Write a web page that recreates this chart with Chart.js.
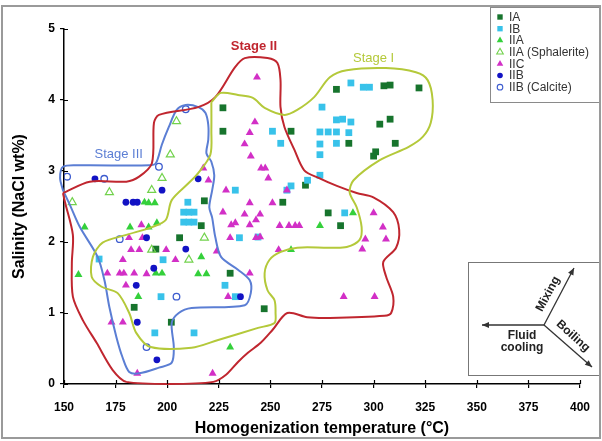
<!DOCTYPE html>
<html>
<head>
<meta charset="utf-8">
<script src="https://cdn.jsdelivr.net/npm/chart.js@4.4.1/dist/chart.umd.min.js"></script>
<style>
  html, body { margin: 0; padding: 0; background: #fff; }
  canvas { display: block; }
</style>
</head>
<body>
<canvas id="chart" width="602" height="441"></canvas>
<script>
// Axis ticks
const xTicks = [150, 175, 200, 225, 250, 275, 300, 325, 350, 375, 400];
const yTicks = [0, 1, 2, 3, 4, 5];

// Fluid inclusion groups: homogenization temperature (°C) and salinity (NaCl wt%)
const iaTemp = [227, 227, 282, 305, 308, 322, 303, 308, 260, 288, 310.5, 301, 300, 267, 256, 278, 284, 247, 218, 216.5, 206, 194.5, 230.5, 184, 202];
const iaSal  = [3.89, 3.56, 4.15, 4.20, 4.21, 4.17, 3.66, 3.73, 3.56, 3.39, 3.39, 3.27, 3.21, 2.80, 2.56, 2.41, 2.23, 1.06, 2.58, 2.23, 2.06, 1.90, 1.56, 1.08, 0.87];

const ibTemp = [289, 295, 298, 275, 282, 285, 289, 274, 278, 282, 288, 274, 282, 274, 251, 255, 274, 268, 260, 258, 286, 244, 210, 208, 210.5, 213, 208, 210.5, 213, 233, 235, 198, 167, 228, 233, 197, 194, 213];
const ibSal  = [4.24, 4.18, 4.18, 3.90, 3.72, 3.73, 3.69, 3.55, 3.55, 3.55, 3.54, 3.38, 3.39, 3.23, 3.56, 3.39, 2.94, 2.87, 2.79, 2.73, 2.41, 2.07, 2.56, 2.42, 2.42, 2.42, 2.28, 2.28, 2.28, 2.73, 2.06, 1.75, 1.76, 1.39, 1.23, 1.23, 0.72, 0.72];

const iiaTemp = [157, 160, 182, 191, 195, 189, 191, 194, 194.5, 197.5, 215, 219, 216.5, 186, 230.5, 274, 260, 290];
const iiaSal  = [1.54, 2.21, 2.21, 2.21, 2.27, 2.56, 2.55, 2.55, 1.56, 1.56, 1.55, 1.55, 1.79, 1.23, 0.52, 2.23, 1.89, 2.41];

const sphTemp = [154, 172, 192.5, 197.5, 201.5, 204.5, 192.5, 210.5, 218];
const sphSal  = [2.56, 2.70, 2.73, 2.90, 3.23, 3.70, 1.89, 1.75, 2.06];

const iicTemp = [243.5, 242.5, 240, 237.5, 240.5, 245.5, 247.5, 249, 258, 251, 240, 237.5, 245, 243, 254.5, 259, 262, 264, 245, 254,
                 300, 304.5, 296, 306, 294.5, 285.5, 300.5, 240, 217.5, 220, 228.5, 227, 233, 231, 240, 181.5, 188, 230.5, 243, 182.5,
                 186.5, 199.5, 178.5, 204, 171, 177, 179, 184, 190, 224, 229.5, 173, 178.5, 185.5, 222, 180, 187.5];
const iicSal  = [4.32, 3.69, 3.54, 3.38, 3.21, 3.04, 3.04, 2.90, 2.73, 2.55, 2.55, 2.39, 2.39, 2.31, 2.23, 2.23, 2.23, 2.23, 2.07, 1.89,
                 2.41, 2.21, 2.04, 2.04, 1.90, 1.23, 1.23, 1.56, 3.04, 2.87, 2.73, 2.42, 2.27, 2.24, 2.24, 2.06, 2.06, 2.06, 2.06, 1.89,
                 1.89, 1.89, 1.75, 1.75, 1.56, 1.56, 1.56, 1.56, 1.55, 1.87, 1.23, 0.87, 0.87, 0.15, 0.15, 1.39, 2.24];

const iibTemp = [165, 197.5, 180, 183.5, 185.5, 215, 209, 193.5, 185, 185.5, 195, 235.5, 190];
const iibSal  = [2.89, 2.73, 2.56, 2.56, 2.56, 2.89, 1.90, 1.63, 1.39, 0.87, 0.34, 1.23, 2.06];

const calTemp = [151.5, 169.5, 196, 209, 177, 204.5, 190];
const calSal  = [2.92, 2.89, 3.06, 3.87, 2.04, 1.23, 0.52];

// Stage outlines (temperature, salinity)
const stage1Temp = [221.4, 226, 234.3, 241.5, 247.2, 256.8, 263, 271.2, 278.8, 287, 306, 320.5, 326.2, 328.6, 327.7, 323.8, 317, 302.8, 290.3, 288.4,
                    291.8, 294.2, 293.2, 287, 278.8, 263, 255, 249.6, 247.2, 248.6, 252, 252.5, 252, 244, 224.7, 211.8, 192, 185, 181.6, 176,
                    168.2, 163.4, 164, 168.7, 180.2, 192.6, 199.3, 202.2, 210.4, 215, 220.9, 221.4, 221.4];
const stage1Sal  = [3.97, 4.10, 4.07, 4.03, 3.89, 3.79, 3.86, 4.04, 4.32, 4.42, 4.45, 4.39, 4.28, 4.00, 3.68, 3.48, 3.34, 3.15, 2.87, 2.70,
                    2.49, 2.21, 2.03, 1.93, 1.92, 1.92, 1.86, 1.75, 1.56, 1.32, 1.18, 1.00, 0.86, 0.79, 0.62, 0.51, 0.52, 0.72, 1.00, 1.28,
                    1.37, 1.51, 1.79, 1.99, 2.10, 2.21, 2.31, 2.59, 2.83, 2.97, 3.23, 3.58, 3.97];

const stage2Temp = [149.5, 162.5, 180.2, 186.4, 192.6, 193.6, 196, 215, 223.3, 232.8, 237.6, 248.6, 253.4, 254.9, 254.9, 256.8, 261.6, 266.4, 273.6, 282.2,
                    291.8, 299.9, 309.5, 312.4, 310.9, 304.7, 306.1, 309.5, 308.5, 305.2, 278.8, 267.8, 258.2, 251, 245.3, 239.1, 234.3, 228.5, 222.3, 200.8,
                    180.2, 173.5, 165.8, 159.1, 154.3, 153.8, 154.3, 150.5, 149.5];
const stage2Sal  = [2.69, 2.85, 2.85, 2.92, 3.11, 3.68, 3.79, 3.90, 4.04, 4.46, 4.59, 4.59, 4.52, 4.28, 3.90, 3.62, 3.30, 3.01, 2.90, 2.79,
                    2.69, 2.63, 2.42, 2.17, 1.92, 1.72, 1.51, 1.23, 1.00, 0.96, 0.93, 0.94, 1.00, 0.76, 0.58, 0.44, 0.31, 0.13, 0.03, 0.00,
                    0.03, 0.20, 0.58, 0.90, 1.23, 1.70, 2.10, 2.56, 2.69];

const stage3Temp = [149.5, 148.1, 149.5, 157.7, 191.2, 194.5, 197.4, 200.8, 204.6, 208.9, 215.1, 218.5, 219.9, 219.9, 219, 221.4, 222.8, 221.8, 220.4, 221.8,
                    223.3, 226.1, 234.3, 240, 240.5, 237.6, 211.8, 205.6, 202.2, 203.2, 202.2, 196, 186.4, 181.6, 178.3, 175.4, 172, 169.6, 166.3, 157.7,
                    152.9, 149.5];
const stage3Sal  = [2.73, 2.90, 3.06, 3.08, 3.08, 3.11, 3.37, 3.62, 3.86, 3.93, 3.90, 3.82, 3.65, 3.44, 3.25, 3.13, 2.94, 2.73, 2.49, 2.34,
                    2.07, 1.79, 1.61, 1.46, 1.28, 1.11, 1.07, 1.00, 0.86, 0.52, 0.30, 0.23, 0.15, 0.17, 0.38, 0.66, 1.08, 1.46, 1.79, 2.21,
                    2.52, 2.73];

const stageLabels = ['Stage I', 'Stage II', 'Stage III'];
const stageLabelTemp = [300, 242, 176.5];
const stageLabelSal  = [4.58, 4.76, 3.23];

const pts = (xs, ys) => xs.map((x, i) => ({ x: x, y: ys[i] }));

const COL = {
  ia: '#17742d', ib: '#38c2ea', iia: '#34d03b', sph: '#72d24c',
  iic: '#d22fc6', iib: '#1212c4', cal: '#3d5ccf',
  s1: '#b4c93a', s2: '#c0262f', s3: '#5b7ed4'
};

function outline(label, xs, ys, color) {
  return {
    label: label, data: pts(xs, ys), showLine: true, borderColor: color, borderWidth: 2,
    pointRadius: 0, pointHoverRadius: 0, tension: 0.3, fill: false, clip: false
  };
}

const datasets = [
  outline('Stage I', stage1Temp, stage1Sal, COL.s1),
  outline('Stage II', stage2Temp, stage2Sal, COL.s2),
  outline('Stage III', stage3Temp, stage3Sal, COL.s3),
  { label: 'IIB (Calcite)', data: pts(calTemp, calSal), pointStyle: 'circle', pointRadius: 3.3,
    backgroundColor: 'rgba(255,255,255,0)', borderColor: COL.cal, borderWidth: 1.3 },
  { label: 'IIB', data: pts(iibTemp, iibSal), pointStyle: 'circle', pointRadius: 3.4,
    backgroundColor: COL.iib, borderColor: COL.iib, borderWidth: 0 },
  { label: 'IIC', data: pts(iicTemp, iicSal), pointStyle: 'triangle', pointRadius: 4.6,
    backgroundColor: COL.iic, borderColor: COL.iic, borderWidth: 0 },
  { label: 'IIA (Sphalerite)', data: pts(sphTemp, sphSal), pointStyle: 'triangle', pointRadius: 4.6,
    backgroundColor: 'rgba(255,255,255,0)', borderColor: COL.sph, borderWidth: 1.2 },
  { label: 'IIA', data: pts(iiaTemp, iiaSal), pointStyle: 'triangle', pointRadius: 4.6,
    backgroundColor: COL.iia, borderColor: COL.iia, borderWidth: 0 },
  { label: 'IB', data: pts(ibTemp, ibSal), pointStyle: 'rect', pointRadius: 4.8,
    backgroundColor: COL.ib, borderColor: COL.ib, borderWidth: 0 },
  { label: 'IA', data: pts(iaTemp, iaSal), pointStyle: 'rect', pointRadius: 4.8,
    backgroundColor: COL.ia, borderColor: COL.ia, borderWidth: 0 }
];

// Draws a legend-style marker
function marker(ctx, style, x, y, r, fill, stroke, lw) {
  ctx.beginPath();
  if (style === 'rect') {
    const s = r * Math.SQRT1_2;
    ctx.rect(x - s, y - s, 2 * s, 2 * s);
  } else if (style === 'triangle') {
    ctx.moveTo(x, y - r);
    ctx.lineTo(x + r * Math.sin(Math.PI * 2 / 3), y + r * 0.5);
    ctx.lineTo(x - r * Math.sin(Math.PI * 2 / 3), y + r * 0.5);
    ctx.closePath();
  } else {
    ctx.arc(x, y, r, 0, Math.PI * 2);
  }
  if (fill) { ctx.fillStyle = fill; ctx.fill(); }
  if (lw) { ctx.strokeStyle = stroke; ctx.lineWidth = lw; ctx.stroke(); }
}

const legendOrder = ['IA', 'IB', 'IIA', 'IIA (Sphalerite)', 'IIC', 'IIB', 'IIB (Calcite)'];
const FONT = '"Liberation Sans", Arial, sans-serif';

const decorations = {
  id: 'decorations',
  afterDraw(chart) {
    const ctx = chart.ctx;
    const a = chart.chartArea;
    const sx = chart.scales.x, sy = chart.scales.y;
    ctx.save();

    // inner half of the tick marks
    ctx.strokeStyle = '#000';
    ctx.lineWidth = 1.2;
    ctx.beginPath();
    sx.ticks.forEach(t => { const p = Math.round(sx.getPixelForValue(t.value)) + 0.5; ctx.moveTo(p, a.bottom); ctx.lineTo(p, a.bottom - 4); });
    sy.ticks.forEach(t => { const p = Math.round(sy.getPixelForValue(t.value)) + 0.5; ctx.moveTo(a.left, p); ctx.lineTo(a.left + 4, p); });
    ctx.stroke();

    // stage names
    const stageCols = [COL.s1, COL.s2, COL.s3];
    const stageFonts = ['13px ' + FONT, 'bold 13px ' + FONT, '13px ' + FONT];
    ctx.textAlign = 'center';
    ctx.textBaseline = 'middle';
    stageLabels.forEach((s, i) => {
      ctx.fillStyle = stageCols[i];
      ctx.font = stageFonts[i];
      ctx.fillText(s, sx.getPixelForValue(stageLabelTemp[i]), sy.getPixelForValue(stageLabelSal[i]));
    });

    // legend
    const lx = 490, ly = 7, lw = 110, lh = 95;
    ctx.fillStyle = '#fff';
    ctx.fillRect(lx, ly, lw, lh);
    ctx.strokeStyle = '#8a8a8a';
    ctx.lineWidth = 1;
    ctx.strokeRect(lx + 0.5, ly + 0.5, lw, lh);
    ctx.font = '12px ' + FONT;
    ctx.textAlign = 'left';
    legendOrder.forEach((name, i) => {
      const ds = chart.data.datasets.find(d => d.label === name);
      const y = ly + 10 + i * 11.7;
      const filled = ds.backgroundColor !== 'rgba(255,255,255,0)';
      const r = ds.pointStyle === 'circle' ? 2.8 : 3.8;
      marker(ctx, ds.pointStyle, lx + 10, y, r, filled ? ds.backgroundColor : '#fff', ds.borderColor, filled ? 0 : 1.1);
      ctx.fillStyle = '#333';
      ctx.fillText(name, lx + 19, y + 0.5);
    });

    // process sketch
    const bx = 468, by = 262, bw = 131, bh = 113;
    ctx.strokeStyle = '#777';
    ctx.lineWidth = 1;
    ctx.strokeRect(bx + 0.5, by + 0.5, bw, bh);
    const cx = 544, cy = 325;
    const arrow = (x2, y2) => {
      ctx.strokeStyle = '#333'; ctx.fillStyle = '#333'; ctx.lineWidth = 1.3;
      ctx.beginPath(); ctx.moveTo(cx, cy); ctx.lineTo(x2, y2); ctx.stroke();
      const ang = Math.atan2(y2 - cy, x2 - cx), L = 7, W = 3;
      ctx.beginPath();
      ctx.moveTo(x2, y2);
      ctx.lineTo(x2 - L * Math.cos(ang) + W * Math.sin(ang), y2 - L * Math.sin(ang) - W * Math.cos(ang));
      ctx.lineTo(x2 - L * Math.cos(ang) - W * Math.sin(ang), y2 - L * Math.sin(ang) + W * Math.cos(ang));
      ctx.closePath(); ctx.fill();
    };
    arrow(482, 325);
    arrow(574, 268);
    arrow(592, 367);
    ctx.fillStyle = '#222';
    ctx.font = 'bold 12px ' + FONT;
    ctx.textAlign = 'center';
    ctx.fillText('Fluid', 522, 336);
    ctx.fillText('cooling', 522, 348);
    ctx.save();
    ctx.translate(548, 294); ctx.rotate(-62 * Math.PI / 180);
    ctx.fillText('Mixing', 0, 0);
    ctx.restore();
    ctx.save();
    ctx.translate(573, 336); ctx.rotate(42 * Math.PI / 180);
    ctx.fillText('Boiling', 0, 0);
    ctx.restore();

    // frame
    ctx.strokeStyle = '#9a9a9a';
    ctx.lineWidth = 2;
    ctx.strokeRect(2, 6, 598, 432);
    ctx.restore();
  }
};

new Chart(document.getElementById('chart'), {
  type: 'scatter',
  data: { datasets: datasets },
  options: {
    responsive: false,
    animation: false,
    events: [],
    layout: { padding: { top: 29, right: 16, left: 0, bottom: 0 } },
    plugins: { legend: { display: false }, tooltip: { enabled: false } },
    scales: {
      x: {
        type: 'linear', min: 150, max: 400,
        afterBuildTicks: s => { s.ticks = xTicks.map(v => ({ value: v })); },
        afterFit: s => { s.height = 57; },
        ticks: { color: '#000', padding: 12, font: { family: FONT, size: 12, weight: 'bold' } },
        grid: { drawOnChartArea: false, drawTicks: true, tickLength: 4, color: '#000', lineWidth: 1.2 },
        border: { color: '#000', width: 1.5 },
        title: { display: true, text: 'Homogenization temperature (°C)', color: '#000',
                 font: { family: FONT, size: 16, weight: 'bold' }, padding: { top: 0, bottom: 3 } }
      },
      y: {
        type: 'linear', min: 0, max: 5,
        afterBuildTicks: s => { s.ticks = yTicks.map(v => ({ value: v })); },
        afterFit: s => { s.width = 64; },
        ticks: { color: '#000', padding: 5, font: { family: FONT, size: 12, weight: 'bold' } },
        grid: { drawOnChartArea: false, drawTicks: true, tickLength: 4, color: '#000', lineWidth: 1.2 },
        border: { color: '#000', width: 1.5 },
        title: { display: true, text: 'Salinity (NaCl wt%)', color: '#000',
                 font: { family: FONT, size: 16, weight: 'bold' }, padding: { top: 10, bottom: 0 } }
      }
    }
  },
  plugins: [decorations]
});
</script>
</body>
</html>
